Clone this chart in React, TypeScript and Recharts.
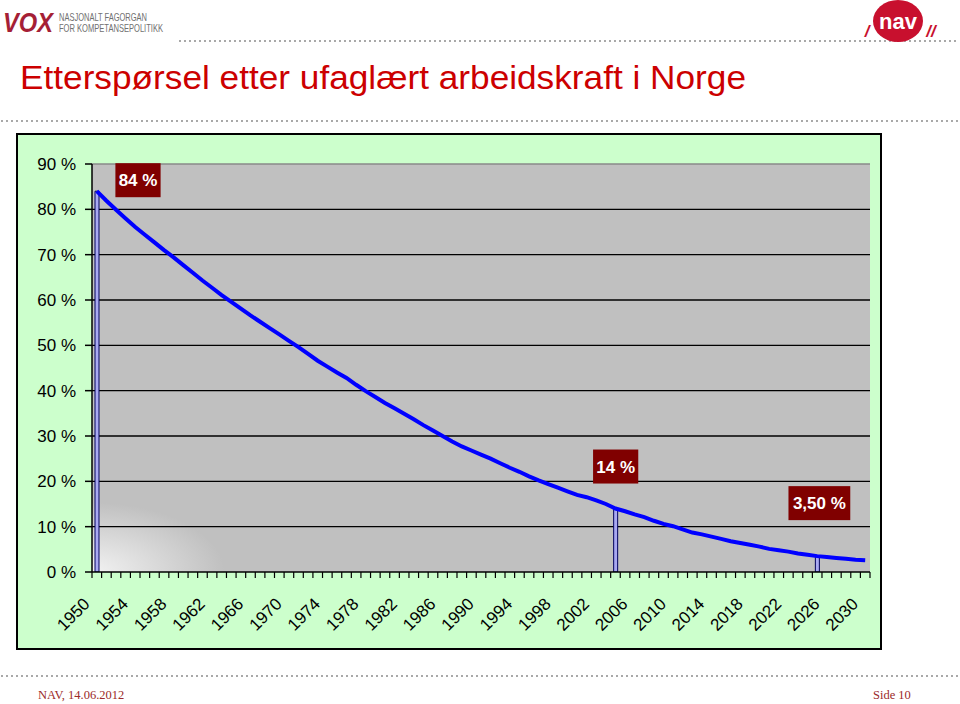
import React from 'react';
import {
  ComposedChart,
  Line,
  Bar,
  XAxis,
  YAxis,
  CartesianGrid,
  LabelList,
  ReferenceLine,
} from 'recharts';

// ---------- data ----------
const years = [
  1950, 1951, 1952, 1953, 1954, 1955, 1956, 1957, 1958, 1959,
  1960, 1961, 1962, 1963, 1964, 1965, 1966, 1967, 1968, 1969,
  1970, 1971, 1972, 1973, 1974, 1975, 1976, 1977, 1978, 1979,
  1980, 1981, 1982, 1983, 1984, 1985, 1986, 1987, 1988, 1989,
  1990, 1991, 1992, 1993, 1994, 1995, 1996, 1997, 1998, 1999,
  2000, 2001, 2002, 2003, 2004, 2005, 2006, 2007, 2008, 2009,
  2010, 2011, 2012, 2013, 2014, 2015, 2016, 2017, 2018, 2019,
  2020, 2021, 2022, 2023, 2024, 2025, 2026, 2027, 2028, 2029,
  2030,
];

// share of demand for unskilled labour (%)
const shareValues = [
  84.0, 81.9, 79.9, 78.0, 76.1, 74.4, 72.7, 71.0, 69.4, 67.7,
  66.0, 64.3, 62.7, 61.1, 59.6, 58.1, 56.6, 55.2, 53.8, 52.4,
  51.0, 49.6, 48.1, 46.6, 45.3, 44.0, 42.8, 41.3, 39.9, 38.6,
  37.3, 36.1, 34.9, 33.7, 32.4, 31.2, 30.0, 28.8, 27.7, 26.8,
  25.9, 25.0, 24.0, 23.0, 22.1, 21.1, 20.2, 19.4, 18.6, 17.8,
  17.0, 16.5, 15.8, 15.0, 14.0, 13.4, 12.7, 12.1, 11.3, 10.6,
  10.1, 9.4, 8.7, 8.3, 7.8, 7.3, 6.8, 6.4, 6.0, 5.6,
  5.1, 4.8, 4.5, 4.1, 3.8, 3.5, 3.3, 3.1, 2.9, 2.7,
  2.6,
];

const markerYears = [1950, 2004, 2025];
const markerValues = [84, 14, 3.5];
const markerLabels = ['84 %', '14 %', '3,50 %'];

const yTicks = [0, 10, 20, 30, 40, 50, 60, 70, 80, 90];
const gridValues = [10, 20, 30, 40, 50, 60, 70, 80];

const data = years.map((year, i) => {
  const m = markerYears.indexOf(year);
  return {
    year,
    share: shareValues[i],
    marker: m >= 0 ? markerValues[m] : null,
    markerLabel: m >= 0 ? markerLabels[m] : null,
  };
});

// ---------- styling ----------
const FONT = 'Arial, "Liberation Sans", sans-serif';
const W = 960;
const H = 704;
const MARGIN = { top: 164, right: 90, left: 0, bottom: 52 };
const Y_AXIS_W = 92;
const X_AXIS_H = 80;
const PLOT_W = W - MARGIN.right - MARGIN.left - Y_AXIS_W;
const BAND = PLOT_W / years.length;

// label box placement relative to the bar top (style only)
const LABEL_SHIFT = [
  { dx: 41, dy: -11 },
  { dx: 0, dy: -42 },
  { dx: 2, dy: -53 },
];

function XTick(props: any) {
  const { x, y, payload, index } = props;
  const half = payload && payload.offset ? payload.offset : BAND / 2;
  const axisY = y - 6;
  const year = Number(payload.value);
  const isLast = index === years.length - 1;
  const showLabel = (year - years[0]) % 4 === 0;
  const lx = x - 6;
  const ly = axisY + 33;
  return (
    <g>
      <line x1={x - half} x2={x - half} y1={axisY} y2={axisY + 6} stroke="#000" strokeWidth={1.2} />
      {isLast && (
        <line x1={x + half} x2={x + half} y1={axisY} y2={axisY + 6} stroke="#000" strokeWidth={1.2} />
      )}
      {showLabel && (
        <text
          x={lx}
          y={ly}
          transform={`rotate(-45 ${lx} ${ly})`}
          textAnchor="end"
          fontFamily={FONT}
          fontSize={17}
          fill="#000"
        >
          {year}
        </text>
      )}
    </g>
  );
}

function MarkerLabel(props: any) {
  const { x, y, width, value, index } = props;
  if (value == null || value === '') return null;
  const k = markerLabels.indexOf(String(value));
  const shift = LABEL_SHIFT[k >= 0 ? k : 0] || { dx: 0, dy: -30 };
  const text = String(value);
  const boxW = text.length * 8.3 + 12;
  const boxH = 34;
  const cx = Number(x) + Number(width) / 2 + shift.dx;
  const cy = Number(y) + shift.dy;
  return (
    <g key={`ml-${index}`}>
      <rect x={cx - boxW / 2} y={cy - boxH / 2} width={boxW} height={boxH} fill="#800000" />
      <text
        x={cx}
        y={cy + 6}
        textAnchor="middle"
        fontFamily={FONT}
        fontWeight="bold"
        fontSize={17}
        fill="#ffffff"
      >
        {text}
      </text>
    </g>
  );
}

function Decorations() {
  return (
    <svg width={W} height={H} style={{ position: 'absolute', left: 0, top: 0 }}>
      {/* dotted rules */}
      <line x1={180} x2={960} y1={41} y2={41} stroke="#8c8c8c" strokeWidth={2} strokeDasharray="0 5" strokeLinecap="round" />
      <line x1={2} x2={960} y1={121} y2={121} stroke="#8c8c8c" strokeWidth={2} strokeDasharray="0 5" strokeLinecap="round" />
      <line x1={2} x2={960} y1={676} y2={676} stroke="#8c8c8c" strokeWidth={2} strokeDasharray="0 5" strokeLinecap="round" />

      {/* VOX logo */}
      <text x={3} y={32} fontFamily={FONT} fontWeight="bold" fontStyle="italic" fontSize={28} fill="#a51f36" textLength={50} lengthAdjust="spacingAndGlyphs">
        VOX
      </text>
      <text x={59} y={21} fontFamily={FONT} fontSize={10.5} fill="#707070" textLength={88} lengthAdjust="spacingAndGlyphs">
        NASJONALT FAGORGAN
      </text>
      <text x={59} y={32} fontFamily={FONT} fontSize={10.5} fill="#707070" textLength={104} lengthAdjust="spacingAndGlyphs">
        FOR KOMPETANSEPOLITIKK
      </text>

      {/* NAV logo */}
      <ellipse cx={898} cy={21} rx={25} ry={21} fill="#c8102e" />
      <text x={867} y={37} fontFamily={FONT} fontWeight="bold" fontStyle="italic" fontSize={17} fill="#c8102e" textAnchor="middle">
        /
      </text>
      <text x={898} y={29} fontFamily={FONT} fontWeight="bold" fontSize={22} fill="#ffffff" textAnchor="middle">
        nav
      </text>
      <text x={931} y={37} fontFamily={FONT} fontWeight="bold" fontStyle="italic" fontSize={17} fill="#c8102e" textAnchor="middle">
        //
      </text>

      {/* title */}
      <text x={20} y={89} fontFamily={FONT} fontSize={34} fill="#cc0000" textLength={726} lengthAdjust="spacingAndGlyphs">
        Etterspørsel etter ufaglært arbeidskraft i Norge
      </text>

      {/* chart area box */}
      <rect x={17} y={134} width={864} height={515} fill="#ccffcc" stroke="#000000" strokeWidth={2} />

      {/* footer */}
      <text x={38} y={699} fontFamily='"Liberation Serif", "Times New Roman", serif' fontSize={12.5} fill="#9c2a2a">
        NAV, 14.06.2012
      </text>
      <text x={873} y={699} fontFamily='"Liberation Serif", "Times New Roman", serif' fontSize={12.5} fill="#9c2a2a">
        Side 10
      </text>
    </svg>
  );
}

export default function App() {
  return (
    <div style={{ position: 'absolute', left: 0, top: 0, width: W, height: H, background: '#ffffff', overflow: 'hidden' }}>
      <Decorations />
      <div style={{ position: 'absolute', left: 0, top: 0 }}>
        <ComposedChart width={W} height={H} data={data} margin={MARGIN}>
          <defs>
            <radialGradient id="plotBg" cx="0" cy="1" r="0.17" fx="0" fy="1">
              <stop offset="0%" stopColor="#f2f2f2" />
              <stop offset="100%" stopColor="#c0c0c0" />
            </radialGradient>
          </defs>
          <CartesianGrid
            fill="url(#plotBg)"
            fillOpacity={1}
            vertical={false}
            horizontalValues={gridValues}
            stroke="#000000"
            strokeWidth={1.3}
            strokeDasharray=""
          />
          <ReferenceLine y={90} stroke="#8a8a8a" strokeWidth={1.5} />
          <XAxis
            dataKey="year"
            type="category"
            height={X_AXIS_H}
            interval={0}
            tick={<XTick />}
            tickLine={false}
            tickSize={6}
            tickMargin={0}
            axisLine={{ stroke: '#000000', strokeWidth: 1.5 }}
          />
          <YAxis
            domain={[0, 90]}
            ticks={yTicks}
            width={Y_AXIS_W}
            tickFormatter={(v: number) => `${v} %`}
            tick={{ fontFamily: FONT, fontSize: 17, fill: '#000000' }}
            tickSize={7}
            tickMargin={9}
            tickLine={{ stroke: '#000000', strokeWidth: 1.5 }}
            axisLine={{ stroke: '#000000', strokeWidth: 1.5 }}
            allowDataOverflow
          />
          <YAxis
            yAxisId="frame"
            orientation="right"
            domain={[0, 90]}
            width={0}
            tick={false}
            tickLine={false}
            axisLine={{ stroke: '#8a9a8a', strokeWidth: 1.5 }}
          />
          <Bar
            dataKey="marker"
            barSize={4}
            fill="#a9a9f2"
            stroke="#00005c"
            strokeWidth={1}
            isAnimationActive={false}
          >
            <LabelList dataKey="markerLabel" content={<MarkerLabel />} />
          </Bar>
          <Line
            dataKey="share"
            type="linear"
            stroke="#0000ff"
            strokeWidth={4}
            dot={false}
            activeDot={false}
            isAnimationActive={false}
          />
        </ComposedChart>
      </div>
    </div>
  );
}
